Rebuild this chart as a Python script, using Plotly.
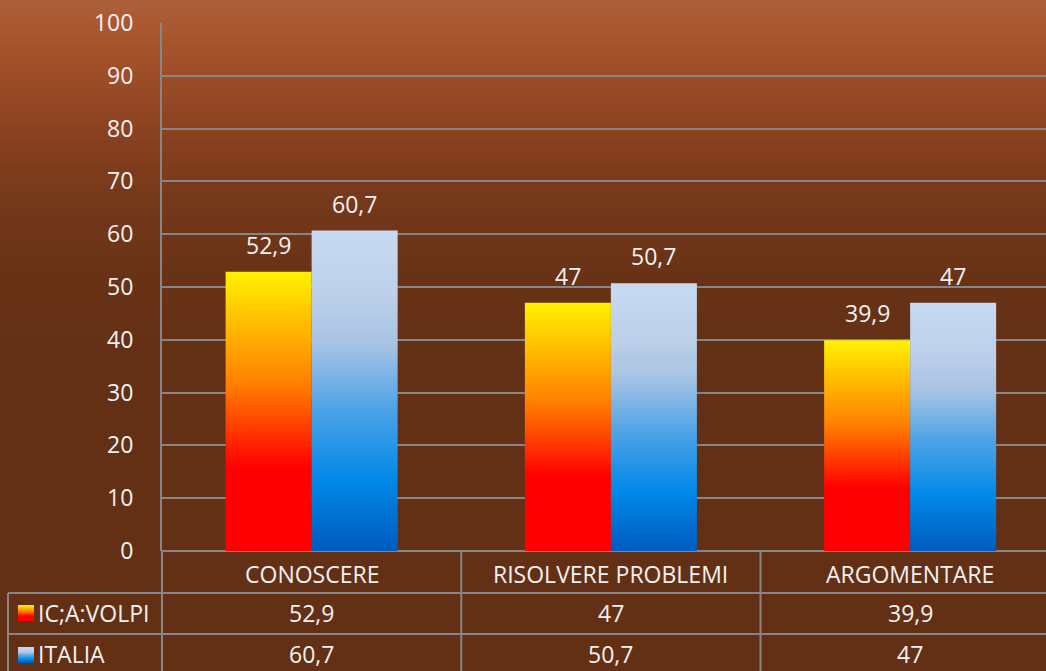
import zlib, struct, base64
import plotly.graph_objects as go

# ---- data ----
categories = ["CONOSCERE", "RISOLVERE PROBLEMI", "ARGOMENTARE"]
series_names = ["IC;A:VOLPI", "ITALIA"]
volpi = [52.9, 47, 39.9]
italia = [60.7, 50.7, 47]
y_ticks = list(range(0, 101, 10))

# ---- style ----
W, H = 1046, 671
ML, MT, MB = 162, 23, 120
PW, PH = W - ML, H - MT - MB
XR = [-0.5, 2.454]
BAR_W = 0.2874
FONT = "Open Sans"
FS = 23
TXT = "#F2F2F2"
GRID = "rgb(134,134,134)"

red_scale = [[0, "#FF0000"], [0.3, "#FF0000"], [0.45, "#FF4000"], [0.6, "#FF8000"],
             [0.8, "#FFB800"], [1, "#FFF200"]]
blue_scale = [[0, "#005BBE"], [0.22, "#0088E8"], [0.45, "#50A4E6"], [0.65, "#A8C4E4"],
              [0.8, "#BDD0EA"], [1, "#C8DAF2"]]


def fmt(v):
    return ("%g" % v).replace(".", ",")


def png_uri(rows):
    raw = b"".join(b"\x00" + bytes(c) for c in rows)

    def chunk(t, d):
        return struct.pack(">I", len(d)) + t + d + struct.pack(">I", zlib.crc32(t + d) & 0xffffffff)
    png = (b"\x89PNG\r\n\x1a\n" + chunk(b"IHDR", struct.pack(">IIBBBBB", 1, len(rows), 8, 2, 0, 0, 0))
           + chunk(b"IDAT", zlib.compress(raw)) + chunk(b"IEND", b""))
    return "data:image/png;base64," + base64.b64encode(png).decode()


def hex2rgb(h):
    h = h.lstrip("#")
    return tuple(int(h[i:i + 2], 16) for i in (0, 2, 4))


def gradient_rows(stops, n):
    rows = []
    for k in range(n):
        t = k / (n - 1)
        for (p0, c0), (p1, c1) in zip(stops[:-1], stops[1:]):
            if p0 <= t <= p1:
                f = 0 if p1 == p0 else (t - p0) / (p1 - p0)
                rows.append(tuple(int(round(a + (b - a) * f)) for a, b in zip(c0, c1)))
                break
    return rows


bg_stops = [(0.0, (172, 96, 58)), (0.06, (168, 85, 45)), (0.18, (142, 67, 33)),
            (0.3, (117, 56, 26)), (0.42, (104, 50, 22)), (0.55, (100, 48, 21)), (1.0, (100, 48, 21))]
bg_uri = png_uri(gradient_rows(bg_stops, 256))


def scale_to_stops_top(scale):
    return [(1 - p, hex2rgb(c)) for p, c in reversed(scale)]


key_red = png_uri(gradient_rows(scale_to_stops_top(red_scale), 32))
key_blue = png_uri(gradient_rows(scale_to_stops_top(blue_scale), 32))

fig = go.Figure()

# bars (gradient-filled rectangles built from the data)
for vals, scale, side, name in [(volpi, red_scale, -1, series_names[0]),
                                (italia, blue_scale, 1, series_names[1])]:
    for i, v in enumerate(vals):
        x0 = i if side > 0 else i - BAR_W
        x1 = x0 + BAR_W
        fig.add_trace(go.Scatter(
            x=[x0, x1, x1, x0, x0], y=[0, 0, v, v, 0], mode="lines",
            fill="toself", line=dict(width=0),
            fillgradient=dict(type="vertical", colorscale=scale),
            name=name, showlegend=False, hoverinfo="skip"))
    fig.add_trace(go.Scatter(
        x=[i + side * BAR_W / 2 for i in range(len(vals))], y=vals,
        mode="markers", marker=dict(size=1, opacity=0), showlegend=False,
        name=name, text=[fmt(v) for v in vals], hovertemplate="%{text}<extra>" + name + "</extra>"))

annotations = []
for vals, side in [(volpi, -1), (italia, 1)]:
    for i, v in enumerate(vals):
        annotations.append(dict(x=i + side * BAR_W / 2, y=v, xref="x", yref="y", text=fmt(v),
                                showarrow=False, yshift=27, yanchor="middle",
                                font=dict(size=FS, color=TXT, family=FONT)))


def py(px):
    return (MT + PH - px) / PH


def px_x(px):
    return (px - ML) / PW


def dx(x):
    return (x - XR[0]) / (XR[1] - XR[0])


row_y = [py(574), py(613), py(654)]
for i, c in enumerate(categories):
    for r, txt in enumerate([c, fmt(volpi[i]), fmt(italia[i])]):
        annotations.append(dict(x=i, y=row_y[r], xref="x", yref="paper", text=txt, showarrow=False,
                                xanchor="center", yanchor="middle",
                                font=dict(size=FS, color=TXT, family=FONT)))
for k, nm in enumerate(series_names):
    annotations.append(dict(x=px_x(36), y=row_y[k + 1], xref="paper", yref="paper", text=nm,
                            xanchor="left", yanchor="middle", showarrow=False,
                            font=dict(size=FS, color=TXT, family=FONT)))

bottom = py(H)
line = dict(color=GRID, width=2)
shapes = [
    dict(type="line", xref="paper", yref="paper", x0=0, x1=0, y0=0, y1=bottom, line=line),
    dict(type="line", xref="paper", yref="paper", x0=dx(0.5), x1=dx(0.5), y0=0, y1=bottom, line=line),
    dict(type="line", xref="paper", yref="paper", x0=dx(1.5), x1=dx(1.5), y0=0, y1=bottom, line=line),
    dict(type="line", xref="paper", yref="paper", x0=px_x(8), x1=px_x(8), y0=py(593), y1=bottom, line=line),
    dict(type="line", xref="paper", yref="paper", x0=px_x(8), x1=1, y0=py(593), y1=py(593), line=line),
    dict(type="line", xref="paper", yref="paper", x0=px_x(8), x1=1, y0=py(634), y1=py(634), line=line),
]

images = [
    dict(source=bg_uri, xref="paper", yref="paper", x=px_x(0), y=py(0), sizex=W / PW, sizey=H / PH,
         xanchor="left", yanchor="top", sizing="stretch", layer="below"),
    dict(source=key_red, xref="paper", yref="paper", x=px_x(18), y=py(605), sizex=16 / PW, sizey=16 / PH,
         xanchor="left", yanchor="top", sizing="stretch", layer="above"),
    dict(source=key_blue, xref="paper", yref="paper", x=px_x(18), y=py(647), sizex=16 / PW, sizey=16 / PH,
         xanchor="left", yanchor="top", sizing="stretch", layer="above"),
]

fig.update_layout(
    width=W, height=H,
    margin=dict(l=ML, r=0, t=MT, b=MB, pad=0),
    paper_bgcolor="rgb(100,48,21)", plot_bgcolor="rgba(0,0,0,0)",
    showlegend=False,
    annotations=annotations, shapes=shapes, images=images,
    xaxis=dict(range=XR, showgrid=False, zeroline=False, showticklabels=False, showline=False,
               fixedrange=True),
    yaxis=dict(range=[0, 100], tickvals=y_ticks, showgrid=True, gridcolor=GRID, gridwidth=2,
               zeroline=True, zerolinecolor=GRID, zerolinewidth=2,
               showline=True, linecolor=GRID, linewidth=2,
               ticks="", ticklabelstandoff=22,
               tickfont=dict(size=FS, color=TXT, family=FONT), fixedrange=True),
)

fig.write_html("out.html", config={"displayModeBar": False},
               post_script="document.body.style.margin='0px';document.body.style.overflow='hidden';")
